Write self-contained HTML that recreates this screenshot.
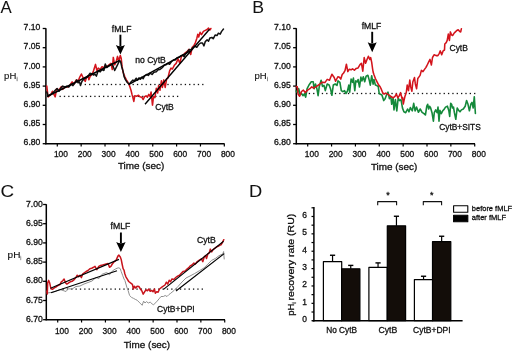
<!DOCTYPE html>
<html><head><meta charset="utf-8"><style>
html,body{margin:0;padding:0;background:#fff;width:513px;height:353px;overflow:hidden}
svg text{font-family:"Liberation Sans", sans-serif}
</style></head><body>
<svg width="513" height="353" viewBox="0 0 513 353" style="display:block;will-change:transform">
<g font-family='"Liberation Sans", sans-serif' stroke-linejoin="round">
<text x="0.6" y="13.3" font-size="16.6" text-anchor="start" fill="#111" stroke="#111" textLength="11.2" lengthAdjust="spacingAndGlyphs" stroke-width="0.05">A</text>
<line x1="45.9" y1="28.2" x2="45.9" y2="144.29999999999998" stroke="#000" stroke-width="1.5"/>
<line x1="42.699999999999996" y1="28.5" x2="45.9" y2="28.5" stroke="#000" stroke-width="1.3"/>
<text x="40.4" y="30.2" font-size="8.6" text-anchor="end" fill="#111" stroke="#111" stroke-width="0.3" textLength="16.8" lengthAdjust="spacingAndGlyphs">7.10</text>
<line x1="42.699999999999996" y1="47.7" x2="45.9" y2="47.7" stroke="#000" stroke-width="1.3"/>
<text x="40.4" y="49.400000000000006" font-size="8.6" text-anchor="end" fill="#111" stroke="#111" stroke-width="0.3" textLength="16.8" lengthAdjust="spacingAndGlyphs">7.05</text>
<line x1="42.699999999999996" y1="66.9" x2="45.9" y2="66.9" stroke="#000" stroke-width="1.3"/>
<text x="40.4" y="68.60000000000001" font-size="8.6" text-anchor="end" fill="#111" stroke="#111" stroke-width="0.3" textLength="16.8" lengthAdjust="spacingAndGlyphs">7.00</text>
<line x1="42.699999999999996" y1="86.1" x2="45.9" y2="86.1" stroke="#000" stroke-width="1.3"/>
<text x="40.4" y="87.8" font-size="8.6" text-anchor="end" fill="#111" stroke="#111" stroke-width="0.3" textLength="16.8" lengthAdjust="spacingAndGlyphs">6.95</text>
<line x1="42.699999999999996" y1="105.3" x2="45.9" y2="105.3" stroke="#000" stroke-width="1.3"/>
<text x="40.4" y="107.0" font-size="8.6" text-anchor="end" fill="#111" stroke="#111" stroke-width="0.3" textLength="16.8" lengthAdjust="spacingAndGlyphs">6.90</text>
<line x1="42.699999999999996" y1="124.5" x2="45.9" y2="124.5" stroke="#000" stroke-width="1.3"/>
<text x="40.4" y="126.2" font-size="8.6" text-anchor="end" fill="#111" stroke="#111" stroke-width="0.3" textLength="16.8" lengthAdjust="spacingAndGlyphs">6.85</text>
<line x1="42.699999999999996" y1="143.7" x2="45.9" y2="143.7" stroke="#000" stroke-width="1.3"/>
<text x="40.4" y="145.39999999999998" font-size="8.6" text-anchor="end" fill="#111" stroke="#111" stroke-width="0.3" textLength="16.8" lengthAdjust="spacingAndGlyphs">6.80</text>
<line x1="45.199999999999996" y1="143.7" x2="224.6" y2="143.7" stroke="#000" stroke-width="1.5"/>
<line x1="57.3" y1="143.7" x2="57.3" y2="146.5" stroke="#000" stroke-width="1.2"/>
<text x="60.9" y="157.0" font-size="8.6" text-anchor="middle" fill="#111" stroke="#111" stroke-width="0.3" textLength="14.0" lengthAdjust="spacingAndGlyphs">100</text>
<line x1="81.16" y1="143.7" x2="81.16" y2="146.5" stroke="#000" stroke-width="1.2"/>
<text x="84.75999999999999" y="157.0" font-size="8.6" text-anchor="middle" fill="#111" stroke="#111" stroke-width="0.3" textLength="14.0" lengthAdjust="spacingAndGlyphs">200</text>
<line x1="105.02" y1="143.7" x2="105.02" y2="146.5" stroke="#000" stroke-width="1.2"/>
<text x="108.61999999999999" y="157.0" font-size="8.6" text-anchor="middle" fill="#111" stroke="#111" stroke-width="0.3" textLength="14.0" lengthAdjust="spacingAndGlyphs">300</text>
<line x1="128.88" y1="143.7" x2="128.88" y2="146.5" stroke="#000" stroke-width="1.2"/>
<text x="132.48" y="157.0" font-size="8.6" text-anchor="middle" fill="#111" stroke="#111" stroke-width="0.3" textLength="14.0" lengthAdjust="spacingAndGlyphs">400</text>
<line x1="152.74" y1="143.7" x2="152.74" y2="146.5" stroke="#000" stroke-width="1.2"/>
<text x="156.34" y="157.0" font-size="8.6" text-anchor="middle" fill="#111" stroke="#111" stroke-width="0.3" textLength="14.0" lengthAdjust="spacingAndGlyphs">500</text>
<line x1="176.6" y1="143.7" x2="176.6" y2="146.5" stroke="#000" stroke-width="1.2"/>
<text x="180.2" y="157.0" font-size="8.6" text-anchor="middle" fill="#111" stroke="#111" stroke-width="0.3" textLength="14.0" lengthAdjust="spacingAndGlyphs">600</text>
<line x1="200.45999999999998" y1="143.7" x2="200.45999999999998" y2="146.5" stroke="#000" stroke-width="1.2"/>
<text x="204.05999999999997" y="157.0" font-size="8.6" text-anchor="middle" fill="#111" stroke="#111" stroke-width="0.3" textLength="14.0" lengthAdjust="spacingAndGlyphs">700</text>
<line x1="224.32" y1="143.7" x2="224.32" y2="146.5" stroke="#000" stroke-width="1.2"/>
<text x="227.92" y="157.0" font-size="8.6" text-anchor="middle" fill="#111" stroke="#111" stroke-width="0.3" textLength="14.0" lengthAdjust="spacingAndGlyphs">800</text>
<text x="117.9" y="169.4" font-size="9.4" text-anchor="start" fill="#111" stroke="#111" stroke-width="0.3" textLength="46.4" lengthAdjust="spacingAndGlyphs">Time (sec)</text>
<text x="4.1" y="78.6" font-size="9.0" text-anchor="start" fill="#111" stroke="#111" textLength="12.2" lengthAdjust="spacingAndGlyphs" stroke-width="0.12">pH</text>
<text x="16.6" y="80.6" font-size="5.5" text-anchor="start" fill="#777" stroke="#777" stroke-width="0.3">i</text>
<rect x="202.15" y="83.85" width="1.30" height="1.30" fill="#111"/>
<rect x="197.80" y="83.85" width="1.30" height="1.30" fill="#111"/>
<rect x="193.45" y="83.85" width="1.30" height="1.30" fill="#111"/>
<rect x="189.10" y="83.85" width="1.30" height="1.30" fill="#111"/>
<rect x="184.75" y="83.85" width="1.30" height="1.30" fill="#111"/>
<rect x="180.40" y="83.85" width="1.30" height="1.30" fill="#111"/>
<rect x="176.05" y="83.85" width="1.30" height="1.30" fill="#111"/>
<rect x="171.70" y="83.85" width="1.30" height="1.30" fill="#111"/>
<rect x="167.35" y="83.85" width="1.30" height="1.30" fill="#111"/>
<rect x="163.00" y="83.85" width="1.30" height="1.30" fill="#111"/>
<rect x="158.65" y="83.85" width="1.30" height="1.30" fill="#111"/>
<rect x="154.30" y="83.85" width="1.30" height="1.30" fill="#111"/>
<rect x="149.95" y="83.85" width="1.30" height="1.30" fill="#111"/>
<rect x="145.60" y="83.85" width="1.30" height="1.30" fill="#111"/>
<rect x="141.25" y="83.85" width="1.30" height="1.30" fill="#111"/>
<rect x="136.90" y="83.85" width="1.30" height="1.30" fill="#111"/>
<rect x="132.55" y="83.85" width="1.30" height="1.30" fill="#111"/>
<rect x="128.20" y="83.85" width="1.30" height="1.30" fill="#111"/>
<rect x="123.85" y="83.85" width="1.30" height="1.30" fill="#111"/>
<rect x="119.50" y="83.85" width="1.30" height="1.30" fill="#111"/>
<rect x="115.15" y="83.85" width="1.30" height="1.30" fill="#111"/>
<rect x="110.80" y="83.85" width="1.30" height="1.30" fill="#111"/>
<rect x="106.45" y="83.85" width="1.30" height="1.30" fill="#111"/>
<rect x="102.10" y="83.85" width="1.30" height="1.30" fill="#111"/>
<rect x="97.75" y="83.85" width="1.30" height="1.30" fill="#111"/>
<rect x="93.40" y="83.85" width="1.30" height="1.30" fill="#111"/>
<rect x="89.05" y="83.85" width="1.30" height="1.30" fill="#111"/>
<rect x="84.70" y="83.85" width="1.30" height="1.30" fill="#111"/>
<rect x="176.95" y="95.75" width="1.30" height="1.30" fill="#111"/>
<rect x="172.60" y="95.75" width="1.30" height="1.30" fill="#111"/>
<rect x="168.25" y="95.75" width="1.30" height="1.30" fill="#111"/>
<rect x="163.90" y="95.75" width="1.30" height="1.30" fill="#111"/>
<rect x="159.55" y="95.75" width="1.30" height="1.30" fill="#111"/>
<rect x="155.20" y="95.75" width="1.30" height="1.30" fill="#111"/>
<rect x="150.85" y="95.75" width="1.30" height="1.30" fill="#111"/>
<rect x="146.50" y="95.75" width="1.30" height="1.30" fill="#111"/>
<rect x="142.15" y="95.75" width="1.30" height="1.30" fill="#111"/>
<rect x="137.80" y="95.75" width="1.30" height="1.30" fill="#111"/>
<rect x="133.45" y="95.75" width="1.30" height="1.30" fill="#111"/>
<rect x="129.10" y="95.75" width="1.30" height="1.30" fill="#111"/>
<rect x="124.75" y="95.75" width="1.30" height="1.30" fill="#111"/>
<rect x="120.40" y="95.75" width="1.30" height="1.30" fill="#111"/>
<rect x="116.05" y="95.75" width="1.30" height="1.30" fill="#111"/>
<rect x="111.70" y="95.75" width="1.30" height="1.30" fill="#111"/>
<rect x="107.35" y="95.75" width="1.30" height="1.30" fill="#111"/>
<rect x="103.00" y="95.75" width="1.30" height="1.30" fill="#111"/>
<rect x="98.65" y="95.75" width="1.30" height="1.30" fill="#111"/>
<rect x="94.30" y="95.75" width="1.30" height="1.30" fill="#111"/>
<rect x="89.95" y="95.75" width="1.30" height="1.30" fill="#111"/>
<rect x="85.60" y="95.75" width="1.30" height="1.30" fill="#111"/>
<rect x="81.25" y="95.75" width="1.30" height="1.30" fill="#111"/>
<rect x="76.90" y="95.75" width="1.30" height="1.30" fill="#111"/>
<rect x="72.55" y="95.75" width="1.30" height="1.30" fill="#111"/>
<rect x="68.20" y="95.75" width="1.30" height="1.30" fill="#111"/>
<rect x="63.85" y="95.75" width="1.30" height="1.30" fill="#111"/>
<rect x="59.50" y="95.75" width="1.30" height="1.30" fill="#111"/>
<polyline points="46.80,86.10 47.70,94.10 48.20,96.90 50.50,95.00 52.40,91.30 53.80,94.10 55.20,96.90 56.60,88.90 59.00,89.90 61.30,86.60 62.70,89.40 65.00,87.00 67.90,87.00 70.20,84.70 72.10,81.90 73.90,84.20 76.30,80.00 78.10,81.00 79.50,77.70 81.40,74.00 83.30,78.20 85.20,81.40 86.60,77.20 88.00,75.80 88.90,79.80 90.30,76.10 92.20,74.20 93.60,70.50 95.50,64.40 96.90,70.50 98.30,68.10 100.20,69.50 102.00,66.70 103.90,67.60 105.30,65.30 107.20,66.70 109.00,64.80 110.90,63.40 112.30,69.50 113.30,57.40 114.70,64.80 116.10,62.00 117.50,56.40 118.90,60.60 120.30,55.50 121.20,58.30 122.10,66.70 123.10,72.30 125.00,77.00 126.40,79.80 128.00,82.50 129.10,84.50 130.10,87.40 131.00,90.20 132.00,94.40 132.90,97.60 133.80,101.40 134.80,95.80 136.60,96.20 138.50,95.30 139.90,96.70 141.80,97.20 143.20,99.50 144.60,96.70 146.00,95.80 147.40,97.20 148.80,94.40 150.20,96.70 151.10,92.00 152.50,105.10 153.50,96.70 154.90,97.60 156.30,88.30 157.70,93.00 158.60,85.50 160.00,90.20 161.40,80.80 162.40,87.40 163.80,79.90 165.20,87.40 166.60,78.90 168.00,77.80 169.60,70.90 171.00,68.10 172.40,69.00 174.30,65.30 176.20,63.40 178.00,58.70 179.90,63.40 181.30,56.80 183.20,55.00 185.00,53.10 186.90,51.70 188.80,49.40 190.70,54.50 192.10,47.50 193.90,45.60 195.40,42.60 196.80,38.40 197.80,34.20 198.70,37.00 200.10,32.30 201.50,34.60 203.40,31.40 205.30,30.40 207.10,29.50 208.50,28.10 209.90,30.00 210.90,28.50" fill="none" stroke="#d3141c" stroke-width="1.55" stroke-linejoin="round" stroke-linecap="round" opacity="1"/>
<polyline points="46.80,92.00 48.20,96.00 49.60,95.00 51.50,94.10 53.40,92.20 55.20,90.30 57.10,88.50 59.00,91.30 60.80,88.00 62.70,86.10 65.00,87.00 66.90,86.10 68.80,87.00 71.10,84.20 73.00,85.60 75.30,82.40 76.70,80.00 78.10,82.80 79.50,81.90 80.50,85.60 81.90,81.40 83.80,79.10 85.60,78.20 87.50,77.20 88.00,76.10 89.90,73.30 91.70,73.70 93.60,75.10 95.00,74.20 96.40,76.10 98.30,70.50 100.20,71.90 102.00,69.50 103.90,70.50 105.30,63.90 106.70,67.60 108.60,66.20 110.50,64.80 111.90,63.90 113.30,66.70 114.70,70.50 116.10,67.60 117.50,64.80 118.90,62.00 119.80,60.60 120.70,62.00 121.70,66.70 123.10,71.40 124.00,76.40 125.40,79.60 127.30,82.50 129.10,84.30 131.00,82.00 132.90,80.10 134.30,81.00 136.20,78.20 137.60,80.10 139.00,77.80 140.40,79.20 141.80,77.30 143.20,78.70 144.60,75.90 146.50,74.50 148.30,75.40 150.20,73.10 152.10,74.50 153.90,72.20 156.30,71.70 158.10,69.80 160.00,69.40 161.90,68.00 163.30,66.50 164.00,65.30 165.90,64.80 167.70,63.40 169.60,64.30 171.50,61.50 173.40,60.10 175.20,60.10 177.10,57.80 179.00,57.30 180.80,55.90 182.70,55.00 184.10,56.80 185.50,54.00 187.40,51.70 189.30,49.40 191.10,49.80 193.00,47.50 194.90,46.10 196.30,47.00 196.80,47.30 198.70,44.50 200.60,43.00 202.50,43.00 203.90,45.90 205.30,41.60 207.10,39.80 208.50,41.20 209.90,37.90 211.80,37.40 213.20,38.80 215.10,35.10 217.00,35.60 218.40,33.20 220.20,34.20 221.60,31.40 223.50,29.00" fill="none" stroke="#111" stroke-width="1.5" stroke-linejoin="round" stroke-linecap="round" opacity="1"/>
<line x1="47" y1="96.5" x2="119.5" y2="60.5" stroke="#000" stroke-width="1.4"/>
<line x1="129" y1="84.4" x2="190" y2="51.2" stroke="#000" stroke-width="1.4"/>
<line x1="145" y1="104.2" x2="209.5" y2="29.3" stroke="#000" stroke-width="1.4"/>
<text x="111.8" y="31.9" font-size="8.8" text-anchor="start" fill="#111" stroke="#111" stroke-width="0.3" textLength="19.6" lengthAdjust="spacingAndGlyphs">fMLF</text>
<line x1="120.4" y1="34.7" x2="120.4" y2="46.0" stroke="#000" stroke-width="1.9"/>
<path d="M115.9,45.0 Q120.4,47.5 124.9,45.0 L120.4,54.5 Z" fill="#000"/>
<text x="135.2" y="63.1" font-size="8.8" text-anchor="start" fill="#111" stroke="#111" stroke-width="0.3" textLength="30.6" lengthAdjust="spacingAndGlyphs">no CytB</text>
<text x="155.2" y="110.4" font-size="8.8" text-anchor="start" fill="#111" stroke="#111" stroke-width="0.3" textLength="18.6" lengthAdjust="spacingAndGlyphs">CytB</text>
<text x="252.2" y="13.3" font-size="16.6" text-anchor="start" fill="#111" stroke="#111" textLength="11.8" lengthAdjust="spacingAndGlyphs" stroke-width="0.05">B</text>
<line x1="296.3" y1="28.2" x2="296.3" y2="144.29999999999998" stroke="#000" stroke-width="1.5"/>
<line x1="293.1" y1="28.5" x2="296.3" y2="28.5" stroke="#000" stroke-width="1.3"/>
<text x="290.8" y="30.2" font-size="8.6" text-anchor="end" fill="#111" stroke="#111" stroke-width="0.3" textLength="16.8" lengthAdjust="spacingAndGlyphs">7.10</text>
<line x1="293.1" y1="47.7" x2="296.3" y2="47.7" stroke="#000" stroke-width="1.3"/>
<text x="290.8" y="49.400000000000006" font-size="8.6" text-anchor="end" fill="#111" stroke="#111" stroke-width="0.3" textLength="16.8" lengthAdjust="spacingAndGlyphs">7.05</text>
<line x1="293.1" y1="66.9" x2="296.3" y2="66.9" stroke="#000" stroke-width="1.3"/>
<text x="290.8" y="68.60000000000001" font-size="8.6" text-anchor="end" fill="#111" stroke="#111" stroke-width="0.3" textLength="16.8" lengthAdjust="spacingAndGlyphs">7.00</text>
<line x1="293.1" y1="86.1" x2="296.3" y2="86.1" stroke="#000" stroke-width="1.3"/>
<text x="290.8" y="87.8" font-size="8.6" text-anchor="end" fill="#111" stroke="#111" stroke-width="0.3" textLength="16.8" lengthAdjust="spacingAndGlyphs">6.95</text>
<line x1="293.1" y1="105.3" x2="296.3" y2="105.3" stroke="#000" stroke-width="1.3"/>
<text x="290.8" y="107.0" font-size="8.6" text-anchor="end" fill="#111" stroke="#111" stroke-width="0.3" textLength="16.8" lengthAdjust="spacingAndGlyphs">6.90</text>
<line x1="293.1" y1="124.5" x2="296.3" y2="124.5" stroke="#000" stroke-width="1.3"/>
<text x="290.8" y="126.2" font-size="8.6" text-anchor="end" fill="#111" stroke="#111" stroke-width="0.3" textLength="16.8" lengthAdjust="spacingAndGlyphs">6.85</text>
<line x1="293.1" y1="143.7" x2="296.3" y2="143.7" stroke="#000" stroke-width="1.3"/>
<text x="290.8" y="145.39999999999998" font-size="8.6" text-anchor="end" fill="#111" stroke="#111" stroke-width="0.3" textLength="16.8" lengthAdjust="spacingAndGlyphs">6.80</text>
<line x1="295.6" y1="143.7" x2="475.0" y2="143.7" stroke="#000" stroke-width="1.5"/>
<line x1="307.7" y1="143.7" x2="307.7" y2="146.5" stroke="#000" stroke-width="1.2"/>
<text x="311.8" y="157.3" font-size="8.6" text-anchor="middle" fill="#111" stroke="#111" stroke-width="0.3" textLength="14.0" lengthAdjust="spacingAndGlyphs">100</text>
<line x1="331.56" y1="143.7" x2="331.56" y2="146.5" stroke="#000" stroke-width="1.2"/>
<text x="335.66" y="157.3" font-size="8.6" text-anchor="middle" fill="#111" stroke="#111" stroke-width="0.3" textLength="14.0" lengthAdjust="spacingAndGlyphs">200</text>
<line x1="355.41999999999996" y1="143.7" x2="355.41999999999996" y2="146.5" stroke="#000" stroke-width="1.2"/>
<text x="359.52" y="157.3" font-size="8.6" text-anchor="middle" fill="#111" stroke="#111" stroke-width="0.3" textLength="14.0" lengthAdjust="spacingAndGlyphs">300</text>
<line x1="379.28" y1="143.7" x2="379.28" y2="146.5" stroke="#000" stroke-width="1.2"/>
<text x="383.38" y="157.3" font-size="8.6" text-anchor="middle" fill="#111" stroke="#111" stroke-width="0.3" textLength="14.0" lengthAdjust="spacingAndGlyphs">400</text>
<line x1="403.14" y1="143.7" x2="403.14" y2="146.5" stroke="#000" stroke-width="1.2"/>
<text x="407.24" y="157.3" font-size="8.6" text-anchor="middle" fill="#111" stroke="#111" stroke-width="0.3" textLength="14.0" lengthAdjust="spacingAndGlyphs">500</text>
<line x1="427.0" y1="143.7" x2="427.0" y2="146.5" stroke="#000" stroke-width="1.2"/>
<text x="431.1" y="157.3" font-size="8.6" text-anchor="middle" fill="#111" stroke="#111" stroke-width="0.3" textLength="14.0" lengthAdjust="spacingAndGlyphs">600</text>
<line x1="450.86" y1="143.7" x2="450.86" y2="146.5" stroke="#000" stroke-width="1.2"/>
<text x="454.96000000000004" y="157.3" font-size="8.6" text-anchor="middle" fill="#111" stroke="#111" stroke-width="0.3" textLength="14.0" lengthAdjust="spacingAndGlyphs">700</text>
<line x1="474.71999999999997" y1="143.7" x2="474.71999999999997" y2="146.5" stroke="#000" stroke-width="1.2"/>
<text x="478.82" y="157.3" font-size="8.6" text-anchor="middle" fill="#111" stroke="#111" stroke-width="0.3" textLength="14.0" lengthAdjust="spacingAndGlyphs">800</text>
<text x="370.9" y="170.3" font-size="9.4" text-anchor="start" fill="#111" stroke="#111" stroke-width="0.3" textLength="46.4" lengthAdjust="spacingAndGlyphs">Time (sec)</text>
<text x="254.5" y="78.9" font-size="9.0" text-anchor="start" fill="#111" stroke="#111" textLength="12.2" lengthAdjust="spacingAndGlyphs" stroke-width="0.12">pH</text>
<text x="267.0" y="80.9" font-size="5.5" text-anchor="start" fill="#777" stroke="#777" stroke-width="0.3">i</text>
<rect x="474.05" y="92.85" width="1.30" height="1.30" fill="#111"/>
<rect x="469.70" y="92.85" width="1.30" height="1.30" fill="#111"/>
<rect x="465.35" y="92.85" width="1.30" height="1.30" fill="#111"/>
<rect x="461.00" y="92.85" width="1.30" height="1.30" fill="#111"/>
<rect x="456.65" y="92.85" width="1.30" height="1.30" fill="#111"/>
<rect x="452.30" y="92.85" width="1.30" height="1.30" fill="#111"/>
<rect x="447.95" y="92.85" width="1.30" height="1.30" fill="#111"/>
<rect x="443.60" y="92.85" width="1.30" height="1.30" fill="#111"/>
<rect x="439.25" y="92.85" width="1.30" height="1.30" fill="#111"/>
<rect x="434.90" y="92.85" width="1.30" height="1.30" fill="#111"/>
<rect x="430.55" y="92.85" width="1.30" height="1.30" fill="#111"/>
<rect x="426.20" y="92.85" width="1.30" height="1.30" fill="#111"/>
<rect x="421.85" y="92.85" width="1.30" height="1.30" fill="#111"/>
<rect x="417.50" y="92.85" width="1.30" height="1.30" fill="#111"/>
<rect x="413.15" y="92.85" width="1.30" height="1.30" fill="#111"/>
<rect x="408.80" y="92.85" width="1.30" height="1.30" fill="#111"/>
<rect x="404.45" y="92.85" width="1.30" height="1.30" fill="#111"/>
<rect x="400.10" y="92.85" width="1.30" height="1.30" fill="#111"/>
<rect x="395.75" y="92.85" width="1.30" height="1.30" fill="#111"/>
<rect x="391.40" y="92.85" width="1.30" height="1.30" fill="#111"/>
<rect x="387.05" y="92.85" width="1.30" height="1.30" fill="#111"/>
<rect x="382.70" y="92.85" width="1.30" height="1.30" fill="#111"/>
<rect x="378.35" y="92.85" width="1.30" height="1.30" fill="#111"/>
<rect x="374.00" y="92.85" width="1.30" height="1.30" fill="#111"/>
<rect x="369.65" y="92.85" width="1.30" height="1.30" fill="#111"/>
<rect x="365.30" y="92.85" width="1.30" height="1.30" fill="#111"/>
<rect x="360.95" y="92.85" width="1.30" height="1.30" fill="#111"/>
<rect x="356.60" y="92.85" width="1.30" height="1.30" fill="#111"/>
<rect x="352.25" y="92.85" width="1.30" height="1.30" fill="#111"/>
<rect x="347.90" y="92.85" width="1.30" height="1.30" fill="#111"/>
<rect x="343.55" y="92.85" width="1.30" height="1.30" fill="#111"/>
<rect x="339.20" y="92.85" width="1.30" height="1.30" fill="#111"/>
<rect x="334.85" y="92.85" width="1.30" height="1.30" fill="#111"/>
<rect x="330.50" y="92.85" width="1.30" height="1.30" fill="#111"/>
<rect x="326.15" y="92.85" width="1.30" height="1.30" fill="#111"/>
<rect x="321.80" y="92.85" width="1.30" height="1.30" fill="#111"/>
<rect x="317.45" y="92.85" width="1.30" height="1.30" fill="#111"/>
<rect x="313.10" y="92.85" width="1.30" height="1.30" fill="#111"/>
<rect x="308.75" y="92.85" width="1.30" height="1.30" fill="#111"/>
<rect x="304.40" y="92.85" width="1.30" height="1.30" fill="#111"/>
<rect x="300.05" y="92.85" width="1.30" height="1.30" fill="#111"/>
<polyline points="296.20,91.00 297.30,92.50 298.70,88.70 300.10,94.80 301.50,93.40 302.90,95.70 304.30,93.90 305.70,97.10 307.10,88.70 309.00,85.00 311.30,81.70 313.20,81.70 314.10,88.70 315.50,84.00 316.90,88.70 318.10,95.70 319.30,86.40 321.10,80.30 322.50,86.40 324.00,85.40 325.30,90.60 327.20,84.00 329.10,85.00 330.50,88.70 331.90,95.30 333.30,85.00 335.20,84.00 337.00,85.40 338.00,80.90 339.90,82.30 341.30,90.70 342.70,91.60 344.50,90.70 346.00,93.50 347.40,91.20 348.80,85.10 349.70,92.10 351.10,79.00 352.50,82.30 353.40,78.10 354.80,90.70 355.80,80.90 357.20,81.80 358.10,79.50 359.50,87.00 360.90,77.10 361.90,80.90 363.30,76.70 364.70,81.80 366.10,76.20 367.90,75.30 369.30,80.40 370.30,85.10 371.70,75.70 373.10,84.20 374.00,79.50 375.40,85.10 376.80,85.60 378.20,86.50 379.20,93.50 380.00,94.00 381.90,95.00 383.70,100.60 385.10,98.70 386.50,95.00 388.00,92.20 389.40,98.70 390.80,96.40 391.70,104.30 393.10,97.80 394.00,109.90 395.40,99.60 396.80,110.90 398.20,98.20 399.60,100.60 401.00,99.60 402.50,108.10 403.90,111.80 405.70,112.70 407.60,109.00 409.00,111.80 410.40,107.60 412.30,110.90 413.70,103.40 415.10,110.90 416.50,107.10 418.40,112.30 420.20,109.00 422.10,112.30 424.00,113.60 425.40,115.00 426.80,106.20 427.70,104.30 428.70,109.00 429.60,106.20 430.50,107.60 432.00,112.70 433.40,121.10 434.30,112.70 435.70,109.90 437.10,112.70 438.00,107.10 439.00,121.10 439.90,110.40 441.30,113.60 442.70,110.80 444.10,109.40 445.50,107.10 447.40,106.20 448.80,110.40 449.70,116.50 450.70,103.40 451.60,104.30 452.50,108.00 453.50,107.10 454.40,112.70 455.80,119.30 457.20,108.00 458.60,110.40 460.00,111.80 461.40,109.90 463.30,109.00 465.20,106.20 466.60,100.50 468.00,104.30 469.40,110.80 470.80,104.30 472.00,102.40 473.20,108.00 474.30,96.70 475.40,113.50" fill="none" stroke="#14893a" stroke-width="1.6" stroke-linejoin="round" stroke-linecap="round" opacity="1"/>
<polyline points="296.20,86.50 297.30,86.80 298.20,94.30 299.60,96.20 301.50,91.50 303.40,90.10 305.20,92.50 307.60,90.10 309.90,88.70 311.80,86.80 313.60,88.20 316.50,86.40 319.30,84.50 322.10,82.20 324.90,82.60 327.20,79.40 329.50,80.30 331.90,74.20 334.20,77.50 335.60,81.20 337.50,77.50 338.00,76.80 339.40,77.30 340.80,79.10 342.20,74.50 343.60,73.00 345.00,70.70 346.40,64.20 347.80,71.60 349.20,69.30 351.10,69.80 352.50,68.80 354.40,70.20 356.20,68.40 358.10,67.90 360.00,64.60 361.40,63.20 362.80,71.20 364.20,57.60 365.60,63.20 367.00,59.50 368.40,56.20 369.80,59.50 370.70,57.60 371.70,62.30 372.60,68.80 373.10,72.00 374.00,74.80 375.40,78.50 377.30,82.30 378.70,85.10 380.00,86.50 381.40,89.40 382.80,93.10 384.20,94.00 385.60,93.10 387.50,94.00 389.40,95.40 391.20,96.80 393.10,97.80 395.00,96.40 396.40,94.00 397.80,97.80 399.20,95.90 400.60,92.60 402.00,98.70 402.60,97.50 403.30,104.00 403.90,101.00 405.00,96.20 406.30,92.50 407.20,85.00 408.50,90.60 409.80,80.00 410.70,86.90 411.90,91.20 412.80,82.00 414.50,77.50 415.30,83.70 416.60,88.70 417.80,78.50 419.20,76.60 420.10,75.40 421.40,70.40 423.00,71.60 424.50,69.40 425.80,67.60 426.70,66.00 427.20,65.00 428.60,62.20 430.00,59.40 431.40,65.00 432.50,57.50 434.20,54.70 436.10,55.60 437.90,55.60 439.30,53.30 440.30,50.90 441.70,54.70 443.10,50.90 444.50,50.00 444.80,44.00 446.20,42.60 447.20,40.40 448.30,34.10 449.40,40.40 450.40,31.90 451.50,34.80 452.60,35.50 454.00,33.30 455.40,31.90 456.80,30.50 458.20,29.80 459.70,31.60 460.70,31.90 461.40,28.70" fill="none" stroke="#d3141c" stroke-width="1.55" stroke-linejoin="round" stroke-linecap="round" opacity="1"/>
<text x="361.7" y="29.0" font-size="8.8" text-anchor="start" fill="#111" stroke="#111" stroke-width="0.3" textLength="19.6" lengthAdjust="spacingAndGlyphs">fMLF</text>
<line x1="372.2" y1="31.8" x2="372.2" y2="43.3" stroke="#000" stroke-width="1.9"/>
<path d="M367.7,42.3 Q372.2,44.8 376.7,42.3 L372.2,52.3 Z" fill="#000"/>
<text x="449.5" y="50.9" font-size="8.8" text-anchor="start" fill="#111" stroke="#111" stroke-width="0.3" textLength="18.4" lengthAdjust="spacingAndGlyphs">CytB</text>
<text x="439.2" y="130.1" font-size="8.8" text-anchor="start" fill="#111" stroke="#111" stroke-width="0.3" textLength="41.6" lengthAdjust="spacingAndGlyphs">CytB+SITS</text>
<text x="0.6" y="196.5" font-size="16.8" text-anchor="start" fill="#111" stroke="#111" textLength="13.6" lengthAdjust="spacingAndGlyphs" stroke-width="0.05">C</text>
<line x1="46.3" y1="204.2" x2="46.3" y2="320.3" stroke="#000" stroke-width="1.5"/>
<line x1="43.099999999999994" y1="204.5" x2="46.3" y2="204.5" stroke="#000" stroke-width="1.3"/>
<text x="42.8" y="206.6" font-size="8.6" text-anchor="end" fill="#111" stroke="#111" stroke-width="0.3" textLength="16.8" lengthAdjust="spacingAndGlyphs">7.00</text>
<line x1="43.099999999999994" y1="223.7" x2="46.3" y2="223.7" stroke="#000" stroke-width="1.3"/>
<text x="42.8" y="225.79999999999998" font-size="8.6" text-anchor="end" fill="#111" stroke="#111" stroke-width="0.3" textLength="16.8" lengthAdjust="spacingAndGlyphs">6.95</text>
<line x1="43.099999999999994" y1="242.9" x2="46.3" y2="242.9" stroke="#000" stroke-width="1.3"/>
<text x="42.8" y="245.0" font-size="8.6" text-anchor="end" fill="#111" stroke="#111" stroke-width="0.3" textLength="16.8" lengthAdjust="spacingAndGlyphs">6.90</text>
<line x1="43.099999999999994" y1="262.1" x2="46.3" y2="262.1" stroke="#000" stroke-width="1.3"/>
<text x="42.8" y="264.2" font-size="8.6" text-anchor="end" fill="#111" stroke="#111" stroke-width="0.3" textLength="16.8" lengthAdjust="spacingAndGlyphs">6.85</text>
<line x1="43.099999999999994" y1="281.3" x2="46.3" y2="281.3" stroke="#000" stroke-width="1.3"/>
<text x="42.8" y="283.4" font-size="8.6" text-anchor="end" fill="#111" stroke="#111" stroke-width="0.3" textLength="16.8" lengthAdjust="spacingAndGlyphs">6.80</text>
<line x1="43.099999999999994" y1="300.5" x2="46.3" y2="300.5" stroke="#000" stroke-width="1.3"/>
<text x="42.8" y="302.59999999999997" font-size="8.6" text-anchor="end" fill="#111" stroke="#111" stroke-width="0.3" textLength="16.8" lengthAdjust="spacingAndGlyphs">6.75</text>
<line x1="43.099999999999994" y1="319.7" x2="46.3" y2="319.7" stroke="#000" stroke-width="1.3"/>
<text x="42.8" y="321.79999999999995" font-size="8.6" text-anchor="end" fill="#111" stroke="#111" stroke-width="0.3" textLength="16.8" lengthAdjust="spacingAndGlyphs">6.70</text>
<line x1="45.599999999999994" y1="319.7" x2="225.0" y2="319.7" stroke="#000" stroke-width="1.5"/>
<line x1="57.699999999999996" y1="319.7" x2="57.699999999999996" y2="322.5" stroke="#000" stroke-width="1.2"/>
<text x="61.9" y="333.5" font-size="8.6" text-anchor="middle" fill="#111" stroke="#111" stroke-width="0.3" textLength="14.0" lengthAdjust="spacingAndGlyphs">100</text>
<line x1="81.56" y1="319.7" x2="81.56" y2="322.5" stroke="#000" stroke-width="1.2"/>
<text x="85.75999999999999" y="333.5" font-size="8.6" text-anchor="middle" fill="#111" stroke="#111" stroke-width="0.3" textLength="14.0" lengthAdjust="spacingAndGlyphs">200</text>
<line x1="105.41999999999999" y1="319.7" x2="105.41999999999999" y2="322.5" stroke="#000" stroke-width="1.2"/>
<text x="109.61999999999998" y="333.5" font-size="8.6" text-anchor="middle" fill="#111" stroke="#111" stroke-width="0.3" textLength="14.0" lengthAdjust="spacingAndGlyphs">300</text>
<line x1="129.28" y1="319.7" x2="129.28" y2="322.5" stroke="#000" stroke-width="1.2"/>
<text x="133.48" y="333.5" font-size="8.6" text-anchor="middle" fill="#111" stroke="#111" stroke-width="0.3" textLength="14.0" lengthAdjust="spacingAndGlyphs">400</text>
<line x1="153.14" y1="319.7" x2="153.14" y2="322.5" stroke="#000" stroke-width="1.2"/>
<text x="157.33999999999997" y="333.5" font-size="8.6" text-anchor="middle" fill="#111" stroke="#111" stroke-width="0.3" textLength="14.0" lengthAdjust="spacingAndGlyphs">500</text>
<line x1="177.0" y1="319.7" x2="177.0" y2="322.5" stroke="#000" stroke-width="1.2"/>
<text x="181.2" y="333.5" font-size="8.6" text-anchor="middle" fill="#111" stroke="#111" stroke-width="0.3" textLength="14.0" lengthAdjust="spacingAndGlyphs">600</text>
<line x1="200.85999999999999" y1="319.7" x2="200.85999999999999" y2="322.5" stroke="#000" stroke-width="1.2"/>
<text x="205.05999999999997" y="333.5" font-size="8.6" text-anchor="middle" fill="#111" stroke="#111" stroke-width="0.3" textLength="14.0" lengthAdjust="spacingAndGlyphs">700</text>
<line x1="224.71999999999997" y1="319.7" x2="224.71999999999997" y2="322.5" stroke="#000" stroke-width="1.2"/>
<text x="228.91999999999996" y="333.5" font-size="8.6" text-anchor="middle" fill="#111" stroke="#111" stroke-width="0.3" textLength="14.0" lengthAdjust="spacingAndGlyphs">800</text>
<text x="123.7" y="348.0" font-size="9.4" text-anchor="start" fill="#111" stroke="#111" stroke-width="0.3" textLength="46.4" lengthAdjust="spacingAndGlyphs">Time (sec)</text>
<text x="7.6" y="258.3" font-size="8.4" text-anchor="start" fill="#111" stroke="#111" textLength="12.8" lengthAdjust="spacingAndGlyphs" stroke-width="0.12">pH</text>
<text x="20.2" y="260.3" font-size="5.0" text-anchor="start" fill="#888" stroke="#888" stroke-width="0.3">i</text>
<rect x="201.65" y="288.45" width="1.30" height="1.30" fill="#111"/>
<rect x="197.30" y="288.45" width="1.30" height="1.30" fill="#111"/>
<rect x="192.95" y="288.45" width="1.30" height="1.30" fill="#111"/>
<rect x="188.60" y="288.45" width="1.30" height="1.30" fill="#111"/>
<rect x="184.25" y="288.45" width="1.30" height="1.30" fill="#111"/>
<rect x="179.90" y="288.45" width="1.30" height="1.30" fill="#111"/>
<rect x="175.55" y="288.45" width="1.30" height="1.30" fill="#111"/>
<rect x="171.20" y="288.45" width="1.30" height="1.30" fill="#111"/>
<rect x="166.85" y="288.45" width="1.30" height="1.30" fill="#111"/>
<rect x="162.50" y="288.45" width="1.30" height="1.30" fill="#111"/>
<rect x="158.15" y="288.45" width="1.30" height="1.30" fill="#111"/>
<rect x="153.80" y="288.45" width="1.30" height="1.30" fill="#111"/>
<rect x="149.45" y="288.45" width="1.30" height="1.30" fill="#111"/>
<rect x="145.10" y="288.45" width="1.30" height="1.30" fill="#111"/>
<rect x="140.75" y="288.45" width="1.30" height="1.30" fill="#111"/>
<rect x="136.40" y="288.45" width="1.30" height="1.30" fill="#111"/>
<rect x="132.05" y="288.45" width="1.30" height="1.30" fill="#111"/>
<rect x="127.70" y="288.45" width="1.30" height="1.30" fill="#111"/>
<rect x="123.35" y="288.45" width="1.30" height="1.30" fill="#111"/>
<rect x="119.00" y="288.45" width="1.30" height="1.30" fill="#111"/>
<rect x="114.65" y="288.45" width="1.30" height="1.30" fill="#111"/>
<rect x="110.30" y="288.45" width="1.30" height="1.30" fill="#111"/>
<rect x="105.95" y="288.45" width="1.30" height="1.30" fill="#111"/>
<rect x="101.60" y="288.45" width="1.30" height="1.30" fill="#111"/>
<rect x="97.25" y="288.45" width="1.30" height="1.30" fill="#111"/>
<rect x="92.90" y="288.45" width="1.30" height="1.30" fill="#111"/>
<rect x="88.55" y="288.45" width="1.30" height="1.30" fill="#111"/>
<rect x="84.20" y="288.45" width="1.30" height="1.30" fill="#111"/>
<rect x="79.85" y="288.45" width="1.30" height="1.30" fill="#111"/>
<rect x="75.50" y="288.45" width="1.30" height="1.30" fill="#111"/>
<rect x="71.15" y="288.45" width="1.30" height="1.30" fill="#111"/>
<rect x="66.80" y="288.45" width="1.30" height="1.30" fill="#111"/>
<rect x="62.45" y="288.45" width="1.30" height="1.30" fill="#111"/>
<polyline points="47.00,293.00 51.00,292.50 55.00,291.50 60.00,289.50 63.00,290.50 66.00,291.50 68.30,288.80 72.00,289.00 76.00,286.50 80.00,286.00 84.00,284.00 88.00,282.50 92.00,281.00 96.00,277.50 99.00,278.50 102.00,274.30 106.70,272.50 109.50,274.80 112.30,271.00 115.10,269.20 117.00,268.20 118.90,267.80 120.30,268.70 121.20,271.50 122.60,275.30 124.00,279.00 124.90,280.50 126.80,287.10 128.20,290.80 129.60,295.50 131.50,297.40 133.40,298.30 135.20,299.30 137.10,300.20 139.00,302.10 140.80,303.90 142.20,305.30 143.60,301.10 145.00,303.00 146.50,301.60 148.30,303.00 150.20,302.10 152.10,303.90 153.50,304.90 155.30,303.00 157.20,301.10 159.10,298.80 161.00,296.50 163.30,296.50 165.20,295.50 167.00,296.50 168.90,294.60 170.80,293.20 174.00,290.50 178.00,286.50 182.00,282.00 186.00,278.00 190.00,276.00 194.70,273.50 199.40,270.70 204.00,267.90 207.80,264.20 211.50,260.40 215.30,258.50 219.00,255.70 222.80,253.90 223.60,251.50 224.20,259.00" fill="none" stroke="#8f8f8f" stroke-width="1.0" stroke-linejoin="round" stroke-linecap="round" opacity="1"/>
<polyline points="46.80,291.00 47.30,293.90 47.70,282.70 48.70,280.40 49.60,282.70 51.00,288.80 52.40,289.30 54.30,287.90 56.20,286.90 58.00,285.50 59.90,284.60 61.30,281.80 62.70,280.80 64.10,279.00 65.50,282.70 66.90,284.10 68.30,283.20 70.20,281.80 72.10,281.30 73.90,279.90 75.80,277.60 77.20,275.20 78.60,276.60 80.00,275.20 81.40,277.60 82.80,273.80 84.20,272.90 86.10,271.50 88.00,270.50 89.90,268.70 91.70,268.20 93.60,267.30 95.00,266.40 96.90,269.60 98.80,266.40 100.60,265.40 102.50,265.00 104.40,264.50 106.20,264.00 108.10,263.60 109.50,267.30 110.90,266.40 112.30,264.00 113.70,262.20 115.10,261.20 116.50,259.40 117.90,256.10 118.90,255.10 120.30,257.00 121.20,259.40 122.10,264.00 123.10,268.70 124.00,270.10 124.90,274.00 125.90,276.80 127.30,279.10 128.70,281.50 130.50,282.90 132.40,284.30 133.40,289.00 134.30,286.20 135.70,288.00 137.10,286.20 139.00,286.60 140.40,289.00 141.80,290.80 143.20,294.10 144.60,291.80 146.00,289.90 147.40,290.80 148.80,289.00 150.20,291.30 151.60,290.40 153.00,291.80 154.40,289.00 155.30,293.20 156.70,291.80 158.10,292.20 159.50,289.00 162.20,286.90 165.00,285.00 166.40,282.20 167.80,284.10 169.20,280.30 170.60,281.70 172.00,278.90 173.90,279.40 175.70,277.50 177.60,276.10 179.50,275.20 181.30,273.30 183.20,271.40 185.10,271.00 187.00,269.10 188.80,267.70 190.20,265.90 192.00,265.00 193.90,263.10 195.30,264.10 196.70,262.20 199.00,260.30 201.40,258.90 202.80,261.70 204.20,257.00 205.60,255.60 206.50,258.50 207.90,253.80 209.30,252.80 210.30,249.10 211.70,251.90 213.10,249.60 215.00,248.20 216.80,246.80 218.20,246.30 219.60,245.40 221.00,244.90 222.40,242.50 223.80,239.70" fill="none" stroke="#c8141c" stroke-width="1.5" stroke-linejoin="round" stroke-linecap="round" opacity="1"/>
<line x1="50.5" y1="288.3" x2="119" y2="259.4" stroke="#000" stroke-width="1.15"/>
<line x1="51" y1="292.7" x2="117" y2="270.8" stroke="#000" stroke-width="1.15"/>
<line x1="163.5" y1="289.4" x2="223.6" y2="241.2" stroke="#000" stroke-width="1.15"/>
<line x1="176" y1="291" x2="224.2" y2="253.6" stroke="#000" stroke-width="1.15"/>
<text x="110.6" y="229.0" font-size="8.8" text-anchor="start" fill="#111" stroke="#111" stroke-width="0.3" textLength="19.8" lengthAdjust="spacingAndGlyphs">fMLF</text>
<line x1="120.9" y1="232.5" x2="120.9" y2="243.0" stroke="#000" stroke-width="1.9"/>
<path d="M116.2,242.0 Q120.9,244.5 125.60000000000001,242.0 L120.9,252.0 Z" fill="#000"/>
<text x="196.9" y="243.4" font-size="8.8" text-anchor="start" fill="#111" stroke="#111" stroke-width="0.3" textLength="18.8" lengthAdjust="spacingAndGlyphs">CytB</text>
<text x="157.1" y="311.9" font-size="8.8" text-anchor="start" fill="#111" stroke="#111" stroke-width="0.3" textLength="37.6" lengthAdjust="spacingAndGlyphs">CytB+DPI</text>
<text x="248.9" y="196.5" font-size="16.8" text-anchor="start" fill="#111" stroke="#111" textLength="13.2" lengthAdjust="spacingAndGlyphs" stroke-width="0.05">D</text>
<line x1="313.9" y1="207.0" x2="313.9" y2="321.4" stroke="#000" stroke-width="1.5"/>
<line x1="312.4" y1="320.7" x2="462.6" y2="320.7" stroke="#000" stroke-width="1.6"/>
<line x1="311.5" y1="320.7" x2="313.9" y2="320.7" stroke="#000" stroke-width="1.2"/>
<text x="307.0" y="322.0" font-size="8.2" text-anchor="end" fill="#111" stroke="#111" stroke-width="0.3" textLength="4.7" lengthAdjust="spacingAndGlyphs">0</text>
<line x1="311.5" y1="312.015" x2="313.9" y2="312.015" stroke="#000" stroke-width="1.2"/>
<line x1="311.5" y1="303.33" x2="313.9" y2="303.33" stroke="#000" stroke-width="1.2"/>
<text x="307.0" y="304.63" font-size="8.2" text-anchor="end" fill="#111" stroke="#111" stroke-width="0.3" textLength="4.7" lengthAdjust="spacingAndGlyphs">1</text>
<line x1="311.5" y1="294.645" x2="313.9" y2="294.645" stroke="#000" stroke-width="1.2"/>
<line x1="311.5" y1="285.96" x2="313.9" y2="285.96" stroke="#000" stroke-width="1.2"/>
<text x="307.0" y="287.26" font-size="8.2" text-anchor="end" fill="#111" stroke="#111" stroke-width="0.3" textLength="4.7" lengthAdjust="spacingAndGlyphs">2</text>
<line x1="311.5" y1="277.275" x2="313.9" y2="277.275" stroke="#000" stroke-width="1.2"/>
<line x1="311.5" y1="268.59" x2="313.9" y2="268.59" stroke="#000" stroke-width="1.2"/>
<text x="307.0" y="269.89" font-size="8.2" text-anchor="end" fill="#111" stroke="#111" stroke-width="0.3" textLength="4.7" lengthAdjust="spacingAndGlyphs">3</text>
<line x1="311.5" y1="259.905" x2="313.9" y2="259.905" stroke="#000" stroke-width="1.2"/>
<line x1="311.5" y1="251.21999999999997" x2="313.9" y2="251.21999999999997" stroke="#000" stroke-width="1.2"/>
<text x="307.0" y="252.51999999999998" font-size="8.2" text-anchor="end" fill="#111" stroke="#111" stroke-width="0.3" textLength="4.7" lengthAdjust="spacingAndGlyphs">4</text>
<line x1="311.5" y1="242.53499999999997" x2="313.9" y2="242.53499999999997" stroke="#000" stroke-width="1.2"/>
<line x1="311.5" y1="233.84999999999997" x2="313.9" y2="233.84999999999997" stroke="#000" stroke-width="1.2"/>
<text x="307.0" y="235.14999999999998" font-size="8.2" text-anchor="end" fill="#111" stroke="#111" stroke-width="0.3" textLength="4.7" lengthAdjust="spacingAndGlyphs">5</text>
<line x1="311.5" y1="225.16499999999996" x2="313.9" y2="225.16499999999996" stroke="#000" stroke-width="1.2"/>
<line x1="311.5" y1="216.48" x2="313.9" y2="216.48" stroke="#000" stroke-width="1.2"/>
<text x="307.0" y="217.78" font-size="8.2" text-anchor="end" fill="#111" stroke="#111" stroke-width="0.3" textLength="4.7" lengthAdjust="spacingAndGlyphs">6</text>
<line x1="311.5" y1="207.795" x2="313.9" y2="207.795" stroke="#000" stroke-width="1.2"/>
<line x1="332.54999999999995" y1="261.642" x2="332.54999999999995" y2="255.25" stroke="#000" stroke-width="1.2"/>
<line x1="329.94999999999993" y1="255.25" x2="335.15" y2="255.25" stroke="#000" stroke-width="1.4"/>
<rect x="323.40" y="261.64" width="18.3" height="59.06" fill="#fff" stroke="#000" stroke-width="1.2"/>
<line x1="350.75" y1="268.7637" x2="350.75" y2="265.4" stroke="#000" stroke-width="1.2"/>
<line x1="348.15" y1="265.4" x2="353.35" y2="265.4" stroke="#000" stroke-width="1.4"/>
<rect x="341.60" y="268.76" width="18.3" height="51.94" fill="#130d09" stroke="#000" stroke-width="1.2"/>
<line x1="378.04999999999995" y1="267.3741" x2="378.04999999999995" y2="262.9" stroke="#000" stroke-width="1.2"/>
<line x1="375.44999999999993" y1="262.9" x2="380.65" y2="262.9" stroke="#000" stroke-width="1.4"/>
<rect x="368.90" y="267.37" width="18.3" height="53.33" fill="#fff" stroke="#000" stroke-width="1.2"/>
<line x1="396.45" y1="225.85979999999998" x2="396.45" y2="216.25" stroke="#000" stroke-width="1.2"/>
<line x1="393.84999999999997" y1="216.25" x2="399.05" y2="216.25" stroke="#000" stroke-width="1.4"/>
<rect x="387.30" y="225.86" width="18.3" height="94.84" fill="#130d09" stroke="#000" stroke-width="1.2"/>
<line x1="423.54999999999995" y1="279.5331" x2="423.54999999999995" y2="276.25" stroke="#000" stroke-width="1.2"/>
<line x1="420.94999999999993" y1="276.25" x2="426.15" y2="276.25" stroke="#000" stroke-width="1.4"/>
<rect x="414.40" y="279.53" width="18.3" height="41.17" fill="#fff" stroke="#000" stroke-width="1.2"/>
<line x1="441.65" y1="241.66649999999998" x2="441.65" y2="236.25" stroke="#000" stroke-width="1.2"/>
<line x1="439.04999999999995" y1="236.25" x2="444.25" y2="236.25" stroke="#000" stroke-width="1.4"/>
<rect x="432.50" y="241.67" width="18.3" height="79.03" fill="#130d09" stroke="#000" stroke-width="1.2"/>
<path d="M377.7,205.3 V201.6 H396.6 V205.3" fill="none" stroke="#111" stroke-width="1.1"/>
<text x="388.0" y="198.2" font-size="9.0" text-anchor="middle" fill="#111" stroke="#111" stroke-width="0.3">*</text>
<path d="M423.3,205.3 V201.6 H441.6 V205.3" fill="none" stroke="#111" stroke-width="1.1"/>
<text x="431.8" y="198.2" font-size="9.0" text-anchor="middle" fill="#111" stroke="#111" stroke-width="0.3">*</text>
<rect x="453.6" y="205.8" width="14.2" height="6.4" fill="#fff" stroke="#000" stroke-width="1.1"/>
<rect x="453.6" y="215.3" width="14.2" height="6.4" fill="#000" stroke="#000" stroke-width="1.1"/>
<text x="471.8" y="211.4" font-size="7.6" text-anchor="start" fill="#111" stroke="#111" stroke-width="0.3" textLength="40.4" lengthAdjust="spacingAndGlyphs">before fMLF</text>
<text x="471.8" y="220.0" font-size="7.6" text-anchor="start" fill="#111" stroke="#111" stroke-width="0.3" textLength="34.2" lengthAdjust="spacingAndGlyphs">after fMLF</text>
<text x="326.2" y="333.4" font-size="8.6" text-anchor="start" fill="#111" stroke="#111" stroke-width="0.3" textLength="30.8" lengthAdjust="spacingAndGlyphs">No CytB</text>
<text x="378.4" y="333.3" font-size="8.6" text-anchor="start" fill="#111" stroke="#111" stroke-width="0.3" textLength="18.8" lengthAdjust="spacingAndGlyphs">CytB</text>
<text x="413.0" y="333.3" font-size="8.6" text-anchor="start" fill="#111" stroke="#111" stroke-width="0.3" textLength="37.6" lengthAdjust="spacingAndGlyphs">CytB+DPI</text>
<g transform="translate(293.9,315.8) rotate(-90)">
<text x="0" y="0" font-size="9.4" text-anchor="start" fill="#111" stroke="#111" stroke-width="0.3" textLength="12.2" lengthAdjust="spacingAndGlyphs">pH</text>
<text x="12.4" y="1.8" font-size="5.6" text-anchor="start" fill="#111" stroke="#111" stroke-width="0.3">i</text>
<text x="15.4" y="0" font-size="9.4" text-anchor="start" fill="#111" stroke="#111" stroke-width="0.3" textLength="86.8" lengthAdjust="spacingAndGlyphs"> recovery rate (RU)</text>
</g>
</g></svg>
</body></html>
